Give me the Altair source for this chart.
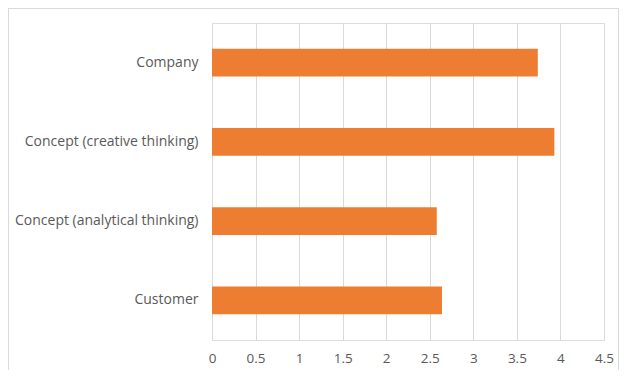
import altair as alt
import pandas as pd

categories = ["Company", "Concept (creative thinking)", "Concept (analytical thinking)", "Customer"]
values = [3.74, 3.93, 2.58, 2.64]
x_ticks = [0, 0.5, 1, 1.5, 2, 2.5, 3, 3.5, 4, 4.5]

df = pd.DataFrame({"category": categories, "value": values})

W, H = 392, 317
PL, PT = 204, 15

bars = alt.Chart(df).mark_bar(color="#ED7D31").encode(
    x=alt.X("value:Q", scale=alt.Scale(domain=[0, 4.5], nice=False),
            axis=alt.Axis(values=x_ticks, title=None, grid=True, gridColor="#d9d9d9",
                          domain=False, ticks=False, labelPadding=11, labelFontSize=13.5,
                          labelColor="#595959", labelFont="Open Sans", labelFlush=False,
                          format="~g")),
    y=alt.Y("category:N", sort=categories,
            scale=alt.Scale(paddingInner=0.65, paddingOuter=0.325),
            axis=alt.Axis(title=None, domain=False, ticks=False, labelPadding=14,
                          labelFontSize=14, labelColor="#595959", labelFont="Open Sans",
                          labelLimit=300)),
)

border_src = pd.DataFrame({"k": [0]})
top = alt.Chart(border_src).mark_rule(color="#d9d9d9").encode(
    x=alt.value(-PL + 0.5), x2=alt.value(611 - PL - 0.5), y=alt.value(-PT + 0.5))
left = alt.Chart(border_src).mark_rule(color="#d9d9d9").encode(
    x=alt.value(-PL + 0.5), y=alt.value(-PT), y2=alt.value(362 - PT))
right = alt.Chart(border_src).mark_rule(color="#d9d9d9").encode(
    x=alt.value(611 - PL - 0.5), y=alt.value(-PT), y2=alt.value(362 - PT))

chart = alt.layer(bars, top, left, right).properties(
    width=W, height=H,
    autosize=alt.AutoSizeParams(type="none"),
    padding={"left": PL, "top": PT, "right": 611 - PL - W, "bottom": 362 - PT - H},
).configure_view(stroke=None).configure(background="white")

chart.save("out.html", embed_options={"renderer": "svg", "actions": False})
